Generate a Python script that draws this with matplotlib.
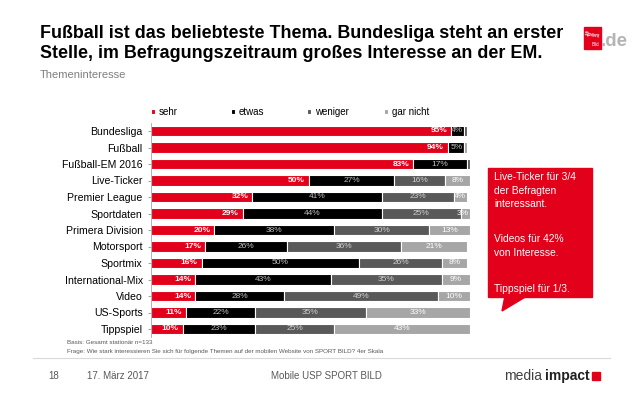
import matplotlib.pyplot as plt
import numpy as np
from matplotlib.patches import Rectangle, Polygon

# --- Daten ---
themen = ["Bundesliga", "Fußball", "Fußball-EM 2016", "Live-Ticker", "Premier League",
          "Sportdaten", "Primera Division", "Motorsport", "Sportmix", "International-Mix",
          "Video", "US-Sports", "Tippspiel"]
sehr = [95, 94, 83, 50, 32, 29, 20, 17, 16, 14, 14, 11, 10]
etwas = [4, 5, 17, 27, 41, 44, 38, 26, 50, 43, 28, 22, 23]
weniger = [1, 0, 1, 16, 23, 25, 30, 36, 26, 35, 49, 35, 25]
gar_nicht = [0, 1, 0, 8, 4, 3, 13, 21, 8, 9, 10, 33, 43]
serien = ["sehr", "etwas", "weniger", "gar nicht"]

red = "#E2001A"
colors = [red, "#000000", "#595959", "#A6A6A6"]
txt_colors = ["white", "#BFBFBF", "#D0D0D0", "white"]

plt.rcParams["font.family"] = ["Liberation Sans", "DejaVu Sans"]

fig = plt.figure(figsize=(6.38, 3.99), dpi=100)
ax = fig.add_axes([151 / 638, 1 - 337.25 / 399, (470 - 151) / 638, (337.25 - 122.75) / 399])

y = np.arange(len(themen))
left = np.zeros(len(themen))
handles = []
for vals, name, col, tc in zip([sehr, etwas, weniger, gar_nicht], serien, colors, txt_colors):
    vals = np.array(vals, dtype=float)
    b = ax.barh(y, vals, left=left, height=0.62, color=col, edgecolor="white", linewidth=0.8, label=name)
    handles.append(b)
    for yi, (l, v) in enumerate(zip(left, vals)):
        if v >= 3:
            if v < 6:
                ax.text(l + v - 0.3, yi, f"{int(v)}%", ha="right", va="center", fontsize=6, color=tc)
            elif name == "sehr":
                ax.text(l + v - 1.2, yi, f"{int(v)}%", ha="right", va="center", fontsize=6,
                        color=tc, fontweight="bold")
            else:
                ax.text(l + v / 2, yi, f"{int(v)}%", ha="center", va="center", fontsize=6, color=tc)
    left += vals

ax.set_xlim(0, 101)
ax.set_ylim(len(themen) - 0.5, -0.5)
ax.set_yticks(y)
ax.set_yticklabels(themen, fontsize=7.6)
ax.set_xticks([])
for s in ["top", "right", "bottom"]:
    ax.spines[s].set_visible(False)
ax.spines["left"].set_color("#A6A6A6")
ax.spines["left"].set_linewidth(0.6)
ax.tick_params(axis="y", length=2, color="#A6A6A6", pad=4)

# Legende: gleichmäßig verteilte Einträge
for h, name, xpos in zip(handles, serien, [151, 231, 307, 384]):
    fig.legend([h], [name], loc="center left", bbox_to_anchor=(xpos / 638, 1 - 112 / 399),
               frameon=False, fontsize=7, handlelength=0.45, handleheight=0.45,
               handletextpad=0.35, borderpad=0, borderaxespad=0)

# --- Titel ---
fig.text(40 / 638, 1 - 33 / 399, "Fußball ist das beliebteste Thema. Bundesliga steht an erster",
         fontsize=12.9, fontweight="bold", va="center", ha="left")
fig.text(40 / 638, 1 - 54 / 399, "Stelle, im Befragungszeitraum großes Interesse an der EM.",
         fontsize=12.9, fontweight="bold", va="center", ha="left")
fig.text(40 / 638, 1 - 75 / 399, "Themeninteresse", fontsize=8, color="#7F7F7F", va="center")

# Logo
fig.patches.append(Rectangle((584 / 638, 1 - 49 / 399), 17 / 638, 22 / 399, transform=fig.transFigure,
                             color=red, zorder=3))
fig.text(592.5 / 638, 1 - 35 / 399, "Sport", fontsize=4.3, color="white", fontweight="bold",
         ha="center", va="center", rotation=-10)
fig.text(595 / 638, 1 - 44 / 399, "Bild", fontsize=3.3, color="white",
         ha="center", va="center")
fig.text(601 / 638, 1 - 42 / 399, ".de", fontsize=13.5, color="#B4B4B4", fontweight="bold",
         ha="left", va="center")

# --- Callout ---
fig.patches.append(Rectangle((488 / 638, 1 - 297 / 399), 104 / 638, 129 / 399, transform=fig.transFigure,
                             color=red, zorder=3))
fig.patches.append(Polygon([(505 / 638, 1 - 296 / 399), (527 / 638, 1 - 296 / 399), (502 / 638, 1 - 311 / 399)],
                           closed=True, transform=fig.transFigure, color=red, zorder=3))
for yy, t in [(177, "Live-Ticker für 3/4"), (191, "der Befragten"), (204, "interessant."),
              (239, "Videos für 42%"), (253, "von Interesse."), (289, "Tippspiel für 1/3.")]:
    fig.text(494 / 638, 1 - yy / 399, t, fontsize=7.4, color="white", va="center", ha="left", zorder=4)

# --- Fußnoten ---
fig.text(67 / 638, 1 - 343 / 399, "Basis: Gesamt stationär n=133", fontsize=4.5, color="#595959", va="center")
fig.text(67 / 638, 1 - 352 / 399,
         "Frage: Wie stark interessieren Sie sich für folgende Themen auf der mobilen Website von SPORT BILD? 4er Skala",
         fontsize=4.5, color="#595959", va="center")
fig.add_artist(plt.Line2D([33 / 638, 610 / 638], [1 - 358 / 399, 1 - 358 / 399], color="#D9D9D9", lw=0.8))

fig.text(48 / 638, 1 - 376 / 399, "18", fontsize=7, color="#595959", va="center")
fig.text(87 / 638, 1 - 376 / 399, "17. März 2017", fontsize=7, color="#595959", va="center")
fig.text(326 / 638, 1 - 376 / 399, "Mobile USP SPORT BILD", fontsize=7, color="#595959",
         va="center", ha="center")
fig.text(542 / 638, 1 - 376 / 399, "media", fontsize=10, color="#404040", va="center", ha="right")
fig.text(545 / 638, 1 - 376 / 399, "impact", fontsize=10, color="#202020", va="center", ha="left",
         fontweight="bold")
fig.patches.append(Rectangle((592 / 638, 1 - 380 / 399), 8 / 638, 8 / 399, transform=fig.transFigure,
                             color=red, zorder=3))

fig.savefig("out.png", dpi=100)
